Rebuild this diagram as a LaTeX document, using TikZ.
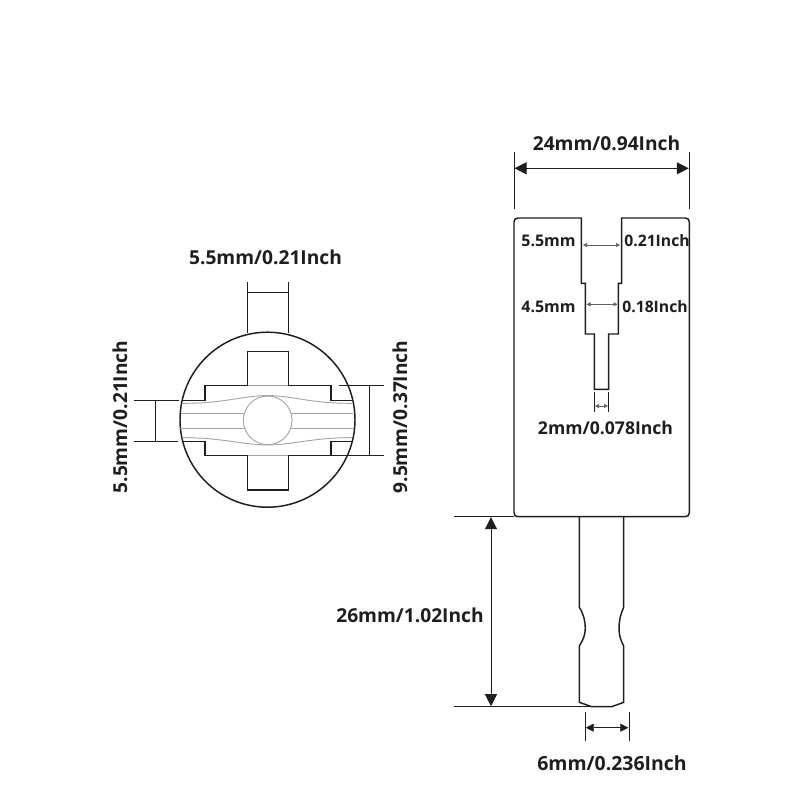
\documentclass[tikz,border=0pt]{standalone}
\usepackage{fontspec}
\setmainfont{Open Sans}
\usetikzlibrary{arrows.meta}
\definecolor{inkdark}{RGB}{30, 30, 30}
\definecolor{ribgray}{RGB}{165, 165, 165}

\begin{document}
\begin{tikzpicture}[x=0.75pt,y=0.75pt,yscale=-1,xscale=1,
  part/.style={draw=inkdark,line width=1.1pt},
  rib/.style={draw=ribgray,line width=0.7pt},
  extline/.style={draw=inkdark,line width=0.75pt},
  dimbig/.style={draw=inkdark,line width=0.75pt,{Triangle[length=9pt,width=9pt]}-{Triangle[length=9pt,width=9pt]}},
  dimmid/.style={draw=inkdark,line width=0.6pt,{Triangle[length=6pt,width=6pt]}-{Triangle[length=6pt,width=6pt]}},
  dimsmall/.style={draw=inkdark!70,line width=0.4pt,{Triangle[length=3pt,width=3pt]}-{Triangle[length=3pt,width=3pt]}},
  dimbar/.style={draw=inkdark,line width=0.75pt},
  dimtext/.style={inner sep=0.75pt,text=inkdark,font=\fontsize{14.4}{16}\selectfont\bfseries},
  slottext/.style={dimtext,font=\fontsize{12}{14}\selectfont\bfseries}
]
\useasboundingbox (0,0) rectangle (800,800);

%Circle end view
\draw [part] (267.5,419.7) circle [radius=87.5];
%Rib lines inside the circle
\draw [rib] (182,403.3) .. controls (225,403.5) and (240,396) .. (267.5,395.5) .. controls (295,396) and (310,403.5) .. (352,403.3);
\draw [rib] (182,437.5) .. controls (225,438) and (240,444.5) .. (267.5,445) .. controls (295,444.5) and (310,438) .. (352,437.5);
\draw [rib] (181,413.3) -- (244,413.3);
\draw [rib] (291,413.3) -- (353,413.3);
\draw [rib] (180,428.3) -- (245,428.3);
\draw [rib] (290,428.3) -- (354,428.3);
\draw [rib] (247.7,385.7) -- (288.3,385.7);
\draw [rib] (247.7,455.3) -- (288.3,455.3);
\draw [rib,fill=white] (267.7,420.3) circle [radius=24.3];
%Cross opening
\draw [part,line join=miter] (183,400.3) -- (205,400.3) -- (205,385.7) -- (247.7,385.7) -- (247.7,351.7) -- (288.3,351.7) -- (288.3,385.7) -- (331,385.7) -- (331,400.3) -- (352,400.3);
\draw [part,line join=miter] (183,441.7) -- (205,441.7) -- (205,455.3) -- (247.7,455.3) -- (247.7,490) -- (288.3,490) -- (288.3,455.3) -- (331,455.3) -- (331,441.7) -- (352,441.7);

%Dimension top of circle
\coordinate (topA) at (247.7,282.3);
\coordinate (topB) at (247.7,332.5);
\coordinate (topC) at (288.3,282.3);
\coordinate (topD) at (288.3,332.5);
\coordinate (topE) at (247.7,292);
\coordinate (topF) at (288.3,292);
\draw [extline] (topA) -- (topB);
\draw [extline] (topC) -- (topD);
\draw [dimbar] (topE) -- (topF);
%Dimension left of circle
\coordinate (leftA) at (134,400.3);
\coordinate (leftB) at (179,400.3);
\coordinate (leftC) at (134,441.7);
\coordinate (leftD) at (178,441.7);
\coordinate (leftE) at (155.7,400.3);
\coordinate (leftF) at (155.7,441.7);
\draw [extline] (leftA) -- (leftB);
\draw [extline] (leftC) -- (leftD);
\draw [dimbar] (leftE) -- (leftF);
%Dimension right of circle
\coordinate (rightA) at (338.5,385.7);
\coordinate (rightB) at (384,385.7);
\coordinate (rightC) at (331,455.3);
\coordinate (rightD) at (384,455.3);
\coordinate (rightE) at (369.3,385.7);
\coordinate (rightF) at (369.3,455.3);
\draw [extline] (rightA) -- (rightB);
\draw [extline] (rightC) -- (rightD);
\draw [dimbar] (rightE) -- (rightF);

%Body side view
\draw [part,line join=miter] (581.3,218) -- (518,218) .. controls (515.5,218) and (514,219.5) .. (514,222) -- (514,512.7) .. controls (514,515.2) and (515.5,516.7) .. (518,516.7) -- (685.3,516.7) .. controls (687.8,516.7) and (689.3,515.2) .. (689.3,512.7) -- (689.3,222) .. controls (689.3,219.5) and (687.8,218) .. (685.3,218) -- (621.7,218) -- (621.7,283.3) -- (618.3,283.3) -- (618.3,334) -- (608.7,334) -- (608.7,389.3) -- (594.3,389.3) -- (594.3,334) -- (585.3,334) -- (585.3,283.3) -- (581.3,283.3) -- cycle;
%Shaft
\draw [part] (579.3,516.7) -- (579.3,607.3) .. controls (583.5,614) and (585.3,621) .. (585.3,628.3) .. controls (585.3,635) and (583,640) .. (579.3,646) -- (579.3,702.3) -- (591.7,706.7) -- (611.7,706.7) -- (623.7,702.3) -- (623.7,646) .. controls (620.5,640) and (619,635) .. (619,628.3) .. controls (619,621) and (620.5,614) .. (623.7,607.3) -- (623.7,516.7);

%Dimension body width
\coordinate (widA) at (514,152);
\coordinate (widB) at (514,209);
\coordinate (widC) at (689.3,152);
\coordinate (widD) at (689.3,209);
\coordinate (widE) at (514.5,168.3);
\coordinate (widF) at (688.8,168.3);
\draw [extline] (widA) -- (widB);
\draw [extline] (widC) -- (widD);
\draw [dimbig] (widE) -- (widF);
%Dimensions of the slot
\coordinate (slotA) at (583,245);
\coordinate (slotB) at (620,245);
\coordinate (slotC) at (586.5,304.3);
\coordinate (slotD) at (617.5,304.3);
\coordinate (slotE) at (594.3,392);
\coordinate (slotF) at (594.3,412);
\coordinate (slotG) at (608.7,392);
\coordinate (slotH) at (608.7,412);
\coordinate (slotI) at (595,406);
\coordinate (slotJ) at (608,406);
\draw [dimsmall] (slotA) -- (slotB);
\draw [dimsmall] (slotC) -- (slotD);
\draw [extline,line width=0.5pt] (slotE) -- (slotF);
\draw [extline,line width=0.5pt] (slotG) -- (slotH);
\draw [dimsmall] (slotI) -- (slotJ);
%Dimension shaft length
\coordinate (lenA) at (454,516.7);
\coordinate (lenB) at (514,516.7);
\coordinate (lenC) at (454,706.7);
\coordinate (lenD) at (591.7,706.7);
\coordinate (lenE) at (491,517.2);
\coordinate (lenF) at (491,706.2);
\draw [extline] (lenA) -- (lenB);
\draw [extline] (lenC) -- (lenD);
\draw [dimbig] (lenE) -- (lenF);
%Dimension shaft width
\coordinate (shaA) at (585,712.3);
\coordinate (shaB) at (585,740.7);
\coordinate (shaC) at (629,712.3);
\coordinate (shaD) at (629,740.7);
\coordinate (shaE) at (585.7,727.7);
\coordinate (shaF) at (628.3,727.7);
\draw [extline] (shaA) -- (shaB);
\draw [extline] (shaC) -- (shaD);
\draw [dimmid] (shaE) -- (shaF);

% Text Node
\node (txtTop) at (265.5,257) [dimtext] {5.5mm/0.21Inch};
% Text Node
\node (txtLeft) at (120,417) [dimtext,rotate=90] {5.5mm/0.21Inch};
% Text Node
\node (txtRight) at (400,417) [dimtext,rotate=90] {9.5mm/0.37Inch};
% Text Node
\node (txtWidth) at (606.5,143) [dimtext] {24mm/0.94Inch};
% Text Node
\node (txtSlotA) at (548.5,241) [slottext] {5.5mm};
% Text Node
\node (txtSlotB) at (657,241) [slottext,font=\fontsize{11.8}{14}\selectfont\bfseries] {0.21Inch};
% Text Node
\node (txtSlotC) at (548.5,307) [slottext] {4.5mm};
% Text Node
\node (txtSlotD) at (655,307) [slottext,font=\fontsize{11.8}{14}\selectfont\bfseries] {0.18Inch};
% Text Node
\node (txtSlotE) at (605.5,428) [dimtext,font=\fontsize{13.2}{15}\selectfont\bfseries] {2mm/0.078Inch};
% Text Node
\node (txtLen) at (410,615) [dimtext] {26mm/1.02Inch};
% Text Node
\node (txtSha) at (612,763) [dimtext,font=\fontsize{14.6}{16}\selectfont\bfseries] {6mm/0.236Inch};

\end{tikzpicture}
\end{document}
